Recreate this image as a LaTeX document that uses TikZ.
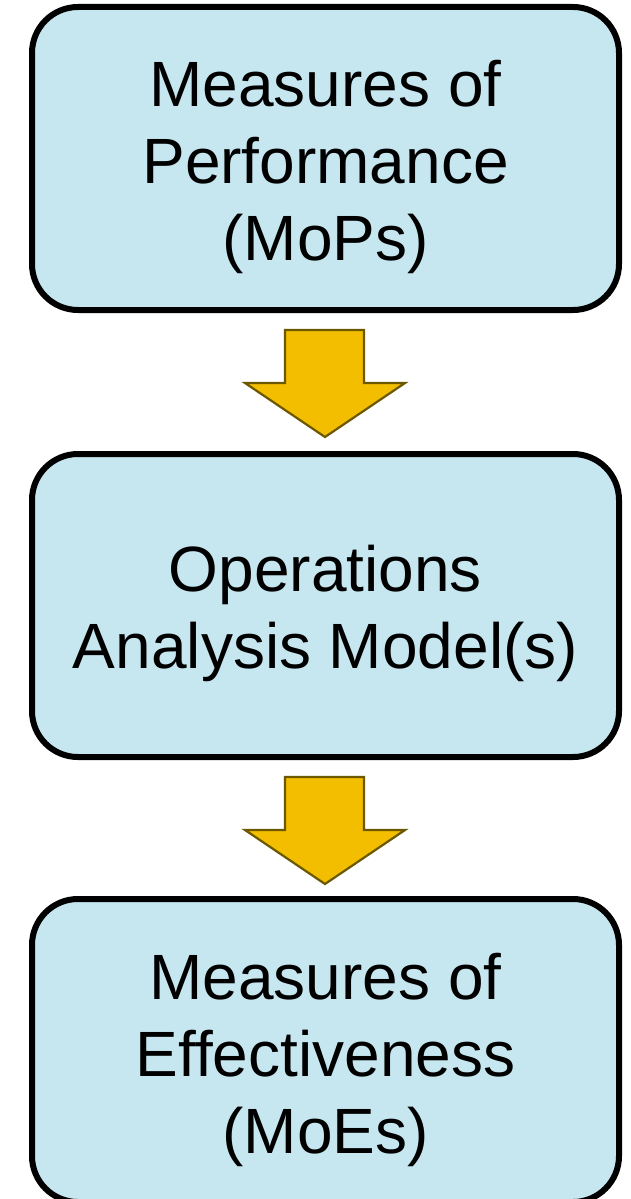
\documentclass[tikz,border=0pt]{standalone}
\usepackage{fontspec}
\setmainfont{Liberation Sans}
\definecolor{boxfill}{HTML}{C6E7F0}
\definecolor{arrowfill}{HTML}{F4BE00}
\definecolor{arrowline}{HTML}{6B5800}
\begin{document}
\begin{tikzpicture}[x=1pt,y=-1pt,
  stage/.style={draw=black,line width=6pt,fill=boxfill,rounded corners=46pt,
    minimum width=587pt,minimum height=303pt,inner sep=0pt},
  stagetext/.style={align=center,inner sep=0pt,
    font=\fontsize{64pt}{77pt}\selectfont},
  blockarrow/.style={fill=arrowfill,draw=arrowline,line width=2.2pt,line join=miter}]
\useasboundingbox (0,0) rectangle (631,1199);
\begin{scope}
\clip (0,0) rectangle (631,1199);
\node[stage] (mop) at (325.5,158.5) {};
\node[stage] (oam) at (325.5,605.5) {};
\node[stage] (moe) at (325.5,1050.5) {};
\end{scope}
\node[stagetext] (moptext) at ([yshift=-8pt]mop.center) {Measures of\\Performance\\(MoPs)};
\node[stagetext] (oamtext) at ([yshift=-8pt]oam.center) {Operations\\Analysis Model(s)};
\node[stagetext] (moetext) at ([yshift=-9pt]moe.center) {Measures of\\Effectiveness\\(MoEs)};
\draw[blockarrow] (285,330) -- (364,330) -- (364,383) -- (405,383) -- (325,437) -- (245,383) -- (285,383) -- cycle;
\draw[blockarrow] (285,777) -- (364,777) -- (364,830) -- (405,830) -- (325,884) -- (245,830) -- (285,830) -- cycle;
\end{tikzpicture}
\end{document}
